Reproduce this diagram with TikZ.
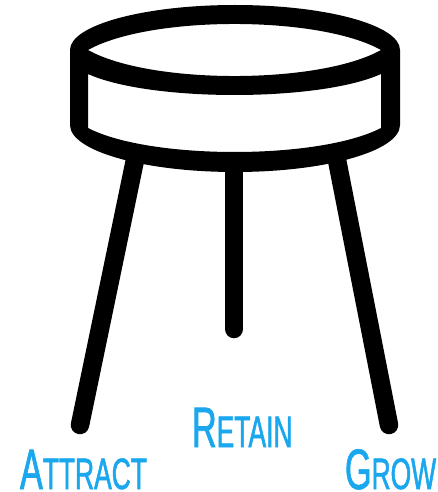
\documentclass[tikz,border=0pt]{standalone}
\usepackage{fontspec}
\setmainfont[FakeStretch=0.6,FakeBold=1.2]{Liberation Sans}
\usepackage{tikz}
\definecolor{labelblue}{HTML}{1AA7EE}
\newcommand{\capword}[2]{{\fontsize{57}{57}\selectfont #1}{\fontsize{44}{44}\selectfont #2}}
\tikzset{
  legline/.style={line width=18.5pt, line cap=round, black},
  leglabel/.style={anchor=base west, inner sep=0pt, outer sep=0pt, text=labelblue},
}

\begin{document}
\begin{tikzpicture}[x=1pt, y=-1pt]
\useasboundingbox (0,0) rectangle (437,492);
\coordinate (LeftTop) at (135,160);
\coordinate (LeftEnd) at (80,425);
\coordinate (MidTop) at (234,165);
\coordinate (MidEnd) at (234,329);
\coordinate (RightTop) at (337,160);
\coordinate (RightEnd) at (389,425);

% seat, the two openings are cut out by the even odd rule
\fill[black, even odd rule] (70,50) arc [start angle=180, end angle=0, x radius=165, y radius=-45]
    -- (400,125) arc [start angle=360, end angle=180, x radius=165, y radius=-47] -- cycle
  (88,50) .. controls (150,15.3) and (319,15.3) .. (381,50)
    .. controls (319,84.7) and (150,84.7) .. cycle
  (88,74) .. controls (150,102) and (319,102) .. (381,74)
    -- (381,128) .. controls (319,160) and (150,160) .. (88,128) -- cycle;

% legs
\draw[legline] (LeftTop) -- (LeftEnd);
\draw[legline] (MidTop) -- (MidEnd);
\draw[legline] (RightTop) -- (RightEnd);

% labels
\node[leglabel] (attract) at (20,489) {\capword{A}{TTRACT}};
\node[leglabel] (retain) at (192,447) {\capword{R}{ETAIN}};
\node[leglabel] (grow) at (345,489) {\capword{G}{ROW}};
\end{tikzpicture}
\end{document}
